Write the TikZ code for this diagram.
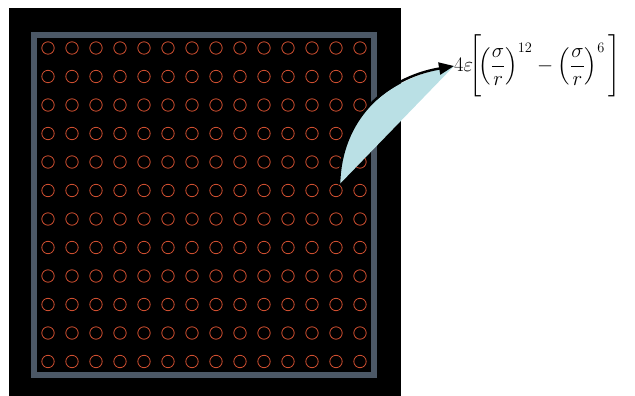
\documentclass[tikz,border=0pt]{standalone}
\usepackage{amsmath}
\usepackage{xcolor}
\usepackage{tikz}
\usetikzlibrary{arrows.meta,positioning,calc}

\definecolor{framegray}{RGB}{76,88,102}
\definecolor{atomred}{RGB}{205,78,48}
\definecolor{leafblue}{RGB}{186,224,229}

\begin{document}
\begin{tikzpicture}[
  x=1pt,y=1pt,
  atom/.style={circle,draw=atomred,line width=0.8pt,minimum size=12.4pt,inner sep=0pt},
  frame/.style={draw=framegray,line width=6pt},
  arr/.style={-{Triangle[length=15pt,width=12pt]},line width=2.4pt},
  eqn/.style={inner sep=0pt,font=\fontsize{22}{26}\selectfont}
]
\useasboundingbox (0,0) rectangle (635,396);
\fill[black] (9,0) rectangle (401,388);
\draw[frame] (34,21) rectangle (374,361);
% lattice of atoms
\foreach \i in {1,...,14}
  \foreach \j in {1,...,12}
    \node[atom] (p-\i-\j) at ({24+24*\i},{376.5-28.5*\j}) {};
\node[eqn, anchor=west] (lj) at (454,330)
  {$4\varepsilon\!\Biggl[\!\left(\dfrac{\sigma}{r}\right)^{12}-\left(\dfrac{\sigma}{r}\right)^{6}\,\Biggr]$};
% pair potential
\fill[leafblue] (p-13-6.62) .. controls +(1,64) and +(-70,-12) .. (lj.west)
  -- cycle;
\draw[arr] (p-13-6.62) .. controls +(1,64) and +(-70,-12) .. (lj.west);
\end{tikzpicture}
\end{document}
